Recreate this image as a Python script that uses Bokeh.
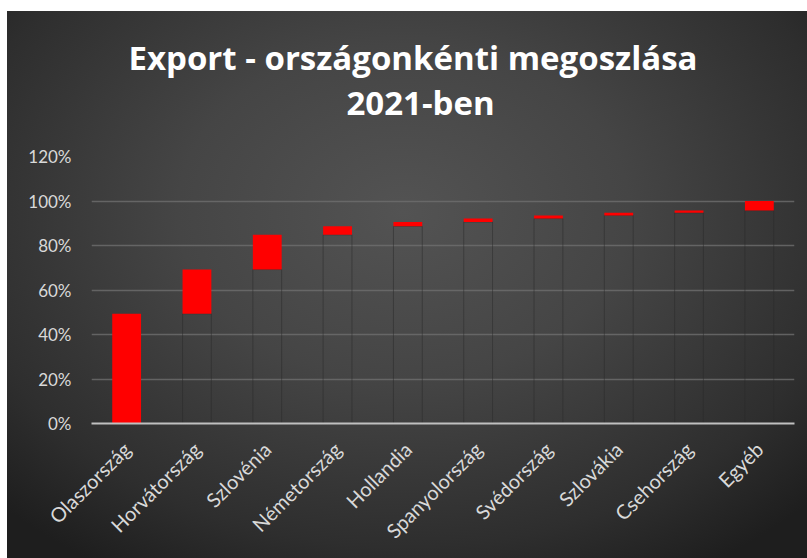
import numpy as np
from bokeh.plotting import figure
from bokeh.models import Title, NumeralTickFormatter, FixedTicker, ColumnDataSource
from bokeh.embed import file_html
from bokeh.resources import INLINE

categories = ["Olaszország", "Horvátország", "Szlovénia", "Németország", "Hollandia",
              "Spanyolország", "Svédország", "Szlovákia", "Csehország", "Egyéb"]
shares = [0.493, 0.199, 0.156, 0.038, 0.020, 0.015, 0.014, 0.012, 0.010, 0.043]
y_ticks = [0, 0.2, 0.4, 0.6, 0.8, 1.0, 1.2]
title_line1 = "Export - országonkénti megoszlása"
title_line2 = "2021-ben"

tops = np.cumsum(shares)
bottoms = tops - np.array(shares)
src = ColumnDataSource(dict(cat=categories, top=tops, bottom=bottoms))

FONT = "Lato"
LABEL = "#d9d9d9"

p = figure(width=807, height=558, x_range=categories, y_range=(0, 1.2),
           output_backend="svg", toolbar_location=None,
           min_border_left=91, min_border_right=13, min_border_bottom=135,
           min_border_top=156)

p.styles = {"background": "linear-gradient(#ffffff,#ffffff) top left / 100% 11px no-repeat, "
                          "linear-gradient(#ffffff,#ffffff) top left / 7px 100% no-repeat, "
                          "radial-gradient(ellipse 70% 75% at 50% 38%, #535353 0%, #454545 40%, #2e2e2e 80%, #1e1e1e 100%)"}
p.border_fill_color = None
p.background_fill_color = None
p.outline_line_color = None

# second title line; the trailing empty line leaves the gap above the plot frame
t2 = Title(text=title_line2 + "\n", align="left", offset=255, text_color="white",
           text_font="Open Sans", text_font_size="33px", text_font_style="bold",
           text_line_height=0.71, standoff=0)
t1 = Title(text=title_line1, align="left", offset=37, text_color="white", text_font="Open Sans",
           text_font_size="33px", text_font_style="bold", standoff=-4)
p.title = None
p.add_layout(t2, "above")
p.add_layout(t1, "above")

# invisible base bars with thin dark outlines
p.vbar(x="cat", top="bottom", bottom=0, width=0.41, source=src,
       fill_color=None, line_color="#2a2a2a", line_alpha=0.5, line_width=1)
# red floating bars
p.vbar(x="cat", top="top", bottom="bottom", width=0.41, source=src,
       fill_color="#ff0000", line_color=None)

p.xgrid.grid_line_color = None
p.ygrid.grid_line_color = "#6e6e6e"
p.ygrid.grid_line_width = 1.5
p.ygrid.grid_line_alpha = 0.8

p.yaxis.ticker = FixedTicker(ticks=y_ticks)
p.yaxis.formatter = NumeralTickFormatter(format="0%")
p.yaxis.axis_line_color = None
p.yaxis.major_tick_line_color = None
p.yaxis.minor_tick_line_color = None
p.yaxis.major_label_text_color = LABEL
p.yaxis.major_label_text_font = FONT
p.yaxis.major_label_text_font_size = "17px"
p.yaxis.major_label_standoff = 14

p.xaxis.axis_line_color = "#c0c0c0"
p.xaxis.axis_line_width = 2
p.xaxis.major_tick_line_color = None
p.xaxis.minor_tick_line_color = None
p.xaxis.major_label_orientation = np.pi / 4
p.xaxis.major_label_text_color = LABEL
p.xaxis.major_label_text_font = FONT
p.xaxis.major_label_text_font_size = "20px"
p.xaxis.major_label_standoff = 16

open("out.html", "w").write(file_html(p, INLINE))
